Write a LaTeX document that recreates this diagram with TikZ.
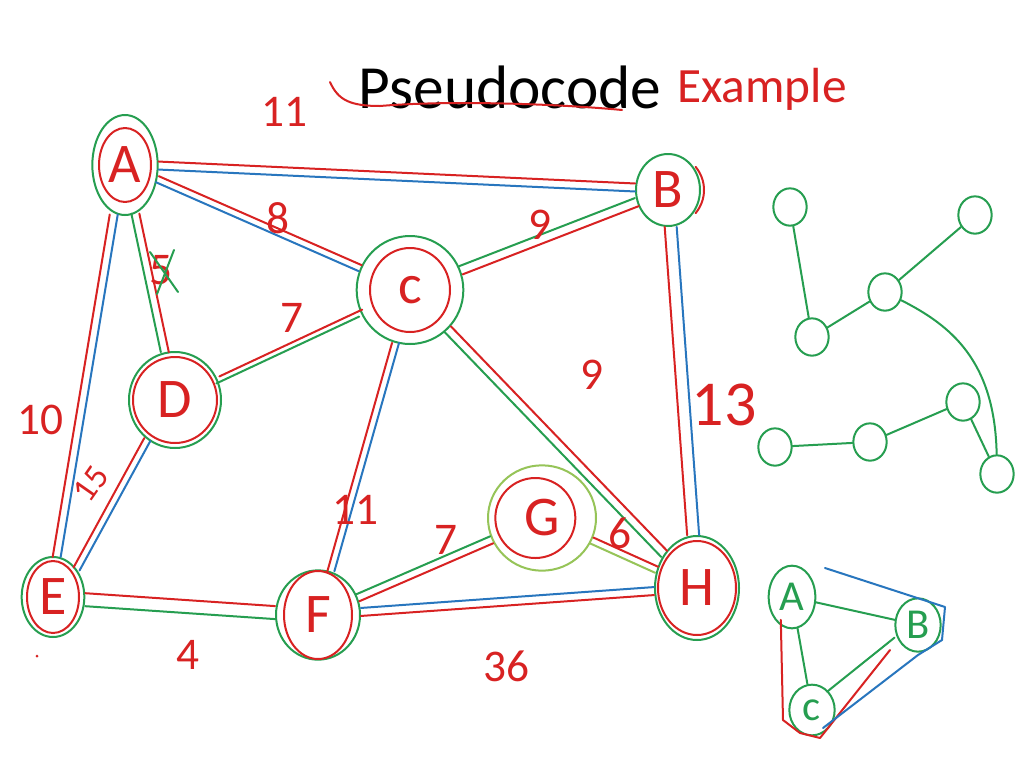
\documentclass[tikz,border=0pt]{standalone}
\usepackage{fontspec}
\setmainfont{Carlito}
\usetikzlibrary{shapes.geometric,calc}
\definecolor{hred}{RGB}{216,34,34}
\definecolor{hgreen}{RGB}{38,158,80}
\definecolor{hblue}{RGB}{40,118,190}
\definecolor{hlgreen}{RGB}{150,196,88}
\begin{document}
\begin{tikzpicture}[x=0.75pt,y=-0.75pt,line cap=round,line join=round,
  every path/.style={line width=1.5pt},
  vtx/.style={ellipse,draw=hgreen,inner sep=0pt,text=hred,font=\fontsize{42}{42}\selectfont},
  tvtx/.style={ellipse,draw=hgreen,inner sep=0pt,minimum width=25pt,minimum height=28pt},
  mvtx/.style={ellipse,draw=hgreen,inner sep=0pt,text=hgreen,font=\fontsize{32}{32}\selectfont},
  lbl/.style={text=hred,font=\fontsize{34}{34}\selectfont},
  off/.style={transform canvas={shift={#1}}},
  tedge/.style={draw=hgreen}]
\useasboundingbox (0,0) rectangle (1024,768);
\fill[white] (0,0) rectangle (1024,768);

% title
\node[font=\fontsize{46}{46}\selectfont,anchor=base] (title) at (510,108) {Pseudocode};
\node[font=\fontsize{37}{37}\selectfont,text=hred,anchor=base] (ex) at (762,102) {Example};
\draw[hred] (330,82) .. controls (338,100) and (350,106) .. (380,106) .. controls (450,100) and (560,104) .. (622,110);

% main graph nodes
\node[vtx,minimum width=49pt,minimum height=75pt] (A) at (125,165) {A};
\node[vtx,minimum width=48pt,minimum height=54pt] (B) at (668,190) {B};
\node[vtx,minimum width=80pt,minimum height=81pt] (C) at (410,290) {c};
\node[vtx,minimum width=69pt,minimum height=72pt] (D) at (175,400) {D};
\node[vtx,minimum width=47pt,minimum height=60pt] (E) at (53,597) {E};
\node[vtx,minimum width=63pt,minimum height=67pt] (F) at (318,615) {F};
\node[vtx,draw=hlgreen,minimum width=81pt,minimum height=79pt] (G) at (542,518) {G};
\node[vtx,minimum width=63pt,minimum height=78pt] (H) at (697,588) {H};

% red inner rings
\draw[hred] (A.center) ellipse [x radius=26,y radius=37];
\draw[hred] (B.center) ++(40:36) arc[start angle=40,end angle=-40,radius=36];
\draw[hred] (C.center) ellipse [x radius=40,y radius=42];
\draw[hred] (D.center) ellipse [x radius=42,y radius=43];
\draw[hred] (E.center) ellipse [x radius=26,y radius=36];
\draw[hred] (F.center) ellipse [x radius=34,y radius=44];
\draw[hred] ([xshift=-5]G.center) ellipse [x radius=40,y radius=40];
\draw[hred] (H.center) ellipse [x radius=39,y radius=47];

% edges
\draw[hred,off={(0,-5)}] (A) -- (B);
\draw[hblue,off={(0,3)}] (A) -- (B);
\draw[hred,off={(1.5,-3)}] (A) -- (C);
\draw[hblue,off={(-1.5,3)}] (A) -- (C);
\draw[hred,off={(4,0)}] (A) -- (D);
\draw[hgreen,off={(-4,0)}] (A) -- (D);
\draw[hred,off={(-7,0)}] (A) -- (E);
\draw[hblue,off={(1,0)}] (A) -- (E);
\draw[hgreen,off={(-2,-4)}] (C) -- (B);
\draw[hred,off={(2,4)}] (C) -- (B);
\draw[hred,off={(1.5,-3.5)}] (D) -- (C);
\draw[hgreen,off={(-1.5,3.5)}] (D) -- (C);
\draw[hred,off={(-3,0)}] (C) -- (F);
\draw[hblue,off={(4,0)}] (C) -- (F);
\draw[hred,off={(3,-3)}] (C) -- (H);
\draw[hgreen,off={(-3,3)}] (C) -- (H);
\draw[hred,off={(-6,0)}] (B) -- (H);
\draw[hblue,off={(6,0)}] (B) -- (H);
\draw[hred,off={(-3,-1.5)}] (D.235) -- (E.50);
\draw[hblue,off={(3,1.5)}] (D.235) -- (E.50);
\draw[hred,off={(0,-6)}] (E) -- (F);
\draw[hgreen,off={(0,7)}] (E) -- (F);
\draw[hgreen,off={(-1.5,-3.5)}] (F) -- (G);
\draw[hred,off={(1.5,3.5)}] (F) -- (G);
\draw[hred,off={(1.5,-3)}] (G) -- (H);
\draw[hlgreen,off={(-1.5,3)}] (G) -- (H);
\draw[hblue,off={(0,-4)}] (F) -- (H);
\draw[hred,off={(0,4)}] (F) -- (H);

% weights
\node[lbl] (wAB) at (284,112) {11};
\node[lbl] (wAC) at (278,218) {8};
\node[lbl] (wAD) at (161,270) {5};
\draw[hgreen] (150,252) -- (178,292) (174,250) -- (157,294);
\node[lbl] (wAE) at (40,420) {10};
\node[lbl] (wCB) at (540,225) {9};
\node[lbl] (wCD) at (292,318) {7};
\node[lbl] (wCF) at (355,510) {11};
\node[lbl] (wCH) at (592,375) {9};
\node[lbl,font=\fontsize{48}{48}\selectfont] (wBH) at (724,405) {13};
\node[lbl,rotate=55,font=\fontsize{26}{26}\selectfont] (wDE) at (91,484) {15};
\node[lbl] (wEF) at (188,655) {4};
\node[lbl] (wFG) at (446,540) {7};
\node[lbl] (wGH) at (620,533) {6};
\node[lbl] (wFH) at (506,666) {36};
\fill[hred] (37,656) circle (1.5);

% spanning tree sketch
\node[tvtx] (t1) at (790,207) {};
\node[tvtx] (t2) at (975,215) {};
\node[tvtx] (t3) at (885,292) {};
\node[tvtx] (t4) at (812,337) {};
\node[tvtx] (t5) at (963,402) {};
\node[tvtx] (t6) at (775,447) {};
\node[tvtx] (t7) at (870,442) {};
\node[tvtx] (t8) at (997,474) {};
\draw[tedge] (t1) -- (t4);
\draw[tedge] (t4) -- (t3);
\draw[tedge] (t3) -- (t2);
\draw[tedge] (t3) .. controls (950,325) and (995,360) .. (t8);
\draw[tedge] (t5) -- (t8);
\draw[tedge] (t7) -- (t5);
\draw[tedge] (t6) -- (t7);

% small example
\node[mvtx,minimum width=35pt,minimum height=47pt] (a2) at (792,597) {A};
\node[mvtx,minimum width=34pt,minimum height=40pt] (b2) at (918,625) {B};
\node[mvtx,minimum width=34pt,minimum height=38pt] (c2) at (812,710) {c};
\draw[hgreen] (a2) -- (b2);
\draw[hgreen] (a2) -- (c2);
\draw[hgreen,off={(-4,-3)}] (b2) -- (c2);
\draw[hred] (a2.south west) ++(6,0) -- (783,720) -- (800,733) -- (820,738) -- (890,650);
\draw[hblue] (825,568) -- (945,607) -- (942,640) -- (918,655) -- (823,728);
\end{tikzpicture}
\end{document}
